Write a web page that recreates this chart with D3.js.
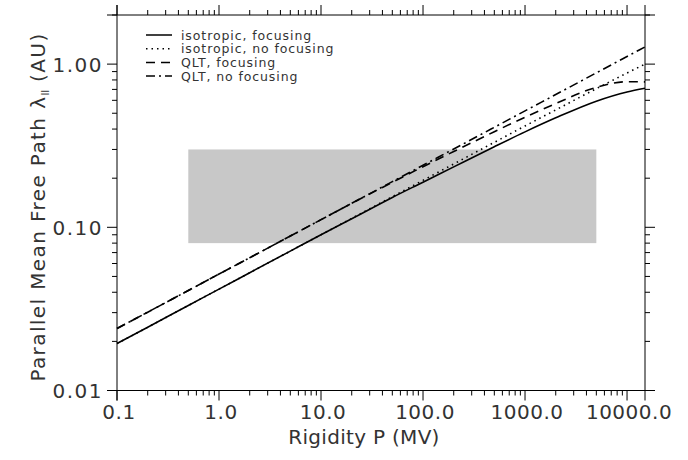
<!DOCTYPE html>
<html><head><meta charset="utf-8">
<script src="https://cdn.jsdelivr.net/npm/d3@7"></script>
<style>body{margin:0;background:#fff}svg{display:block}text{font-family:"DejaVu Sans",sans-serif;fill:#333}</style>
</head><body><svg id="c" width="688" height="460"></svg>
<script>
// Data
const rigidity = [0.1,0.2,0.5,1,2,5,10,20,50,100,200,500,1000,2000,5000,10000,15000];
const isoFocus   = [0.0194,0.0244,0.0332,0.0418,0.0527,0.0715,0.0900,0.1128,0.1524,0.189,0.2346,0.3118,0.3845,0.4686,0.5932,0.6754,0.7112];
const isoNoFocus = [0.0194,0.0244,0.0332,0.0418,0.0527,0.0715,0.0900,0.1134,0.1540,0.194,0.2444,0.3317,0.4179,0.5240,0.7075,0.8825,1.000];
const qltFocus   = [0.0240,0.0302,0.0410,0.0517,0.0651,0.0884,0.1114,0.1403,0.1886,0.2352,0.2914,0.3854,0.4730,0.5730,0.7205,0.7800,0.7780];
const qltNoFocus = [0.0240,0.0302,0.0410,0.0517,0.0651,0.0884,0.1114,0.1403,0.1905,0.240,0.302,0.410,0.517,0.651,0.884,1.114,1.275];
const seriesNames = ["isotropic, focusing","isotropic, no focusing","QLT, focusing","QLT, no focusing"];
const xTickValues = [0.1,1,10,100,1000,10000];
const xTickLabels = ["0.1","1.0","10.0","100.0","1000.0","10000.0"];
const yTickValues = [0.01,0.1,1];
const yTickLabels = ["0.01","0.10","1.00"];
const bandP = [0.5, 5000];
const bandLambda = [0.08, 0.3];

const svg = d3.select("#c");
const L=117, R=645, T=15, B=390.5;
const x = d3.scaleLog().domain([0.1,15000]).range([L,R]);
const y = d3.scaleLog().domain([0.01,2.0]).range([B,T]);

// gray band
svg.append("rect")
  .attr("x",x(bandP[0])).attr("y",y(bandLambda[1]))
  .attr("width",x(bandP[1])-x(bandP[0]))
  .attr("height",y(bandLambda[0])-y(bandLambda[1]))
  .attr("fill","#c8c8c8");

// ticks (outward, IDL style)
function minors(lo,hi){const t=[];for(let e=Math.floor(Math.log10(lo));e<=Math.ceil(Math.log10(hi));e++){for(let k=1;k<10;k++){const v=k*Math.pow(10,e);if(v>=lo*0.9999&&v<=hi*1.0001)t.push(v);}}return t;}
const xt = minors(0.1,15000), yt = minors(0.01,2.0);
const isMajor = v => Math.abs(Math.log10(v)-Math.round(Math.log10(v)))<1e-6;
const ax = svg.append("g").attr("stroke","#000").attr("stroke-width",1);
const ext=10;
ax.append("line").attr("x1",L-ext).attr("x2",R+ext).attr("y1",B).attr("y2",B);
ax.append("line").attr("x1",L-ext).attr("x2",R+ext).attr("y1",T).attr("y2",T);
ax.append("line").attr("x1",L).attr("x2",L).attr("y1",T-ext).attr("y2",B+ext);
ax.append("line").attr("x1",R).attr("x2",R).attr("y1",T-ext).attr("y2",B+ext);
xt.forEach(v=>{const len=isMajor(v)?10:5;const px=x(v);
  ax.append("line").attr("x1",px).attr("x2",px).attr("y1",B).attr("y2",B+len);
  ax.append("line").attr("x1",px).attr("x2",px).attr("y1",T).attr("y2",T-len);});
yt.forEach(v=>{const len=isMajor(v)?10:5;const py=y(v);
  ax.append("line").attr("x1",L).attr("x2",L-len).attr("y1",py).attr("y2",py);
  ax.append("line").attr("x1",R).attr("x2",R+len).attr("y1",py).attr("y2",py);});

// tick labels
xTickValues.forEach((v,i)=>svg.append("text").attr("x",x(v)+2).attr("y",419).attr("text-anchor","middle")
  .attr("font-size",20).attr("letter-spacing",0.5).text(xTickLabels[i]));
yTickValues.forEach((v,i)=>svg.append("text").attr("x",103).attr("y",y(v)+7.5).attr("text-anchor","end")
  .attr("font-size",20).attr("letter-spacing",1.5).text(yTickLabels[i]));

// titles
svg.append("text").attr("x",364).attr("y",444).attr("text-anchor","middle").attr("font-size",20)
  .attr("letter-spacing",0.3).text("Rigidity P (MV)");
const yt1 = svg.append("text").attr("transform","translate(45,207) rotate(-90)").attr("text-anchor","middle")
  .attr("font-size",20).attr("letter-spacing",1.4);
yt1.append("tspan").text("Parallel Mean Free Path λ");
yt1.append("tspan").attr("font-size",10).attr("dy",4).attr("letter-spacing",0).text("II");
yt1.append("tspan").attr("dy",-4).text(" (AU)");

// lines
const styles = [
  {data:isoFocus, dash:null},
  {data:isoNoFocus, dash:"1.5,4"},
  {data:qltFocus, dash:"9,6"},
  {data:qltNoFocus, dash:"9,4,2,4"}
];
const line = d3.line().x((d,i)=>x(rigidity[i])).y(d=>y(d)).curve(d3.curveMonotoneX);
styles.forEach(s=>{
  svg.append("path").attr("d",line(s.data)).attr("fill","none").attr("stroke","#000")
    .attr("stroke-width",1.6).attr("stroke-dasharray",s.dash);
});

// legend
styles.forEach((s,i)=>{
  const yy = 35 + i*13.7;
  svg.append("line").attr("x1",146).attr("x2",172).attr("y1",yy).attr("y2",yy)
    .attr("stroke","#000").attr("stroke-width",1.5).attr("stroke-dasharray",s.dash);
  svg.append("text").attr("x",181).attr("y",yy+4.5).attr("font-size",12.5).attr("letter-spacing",0.9)
    .text(seriesNames[i]);
});
</script></body></html>
